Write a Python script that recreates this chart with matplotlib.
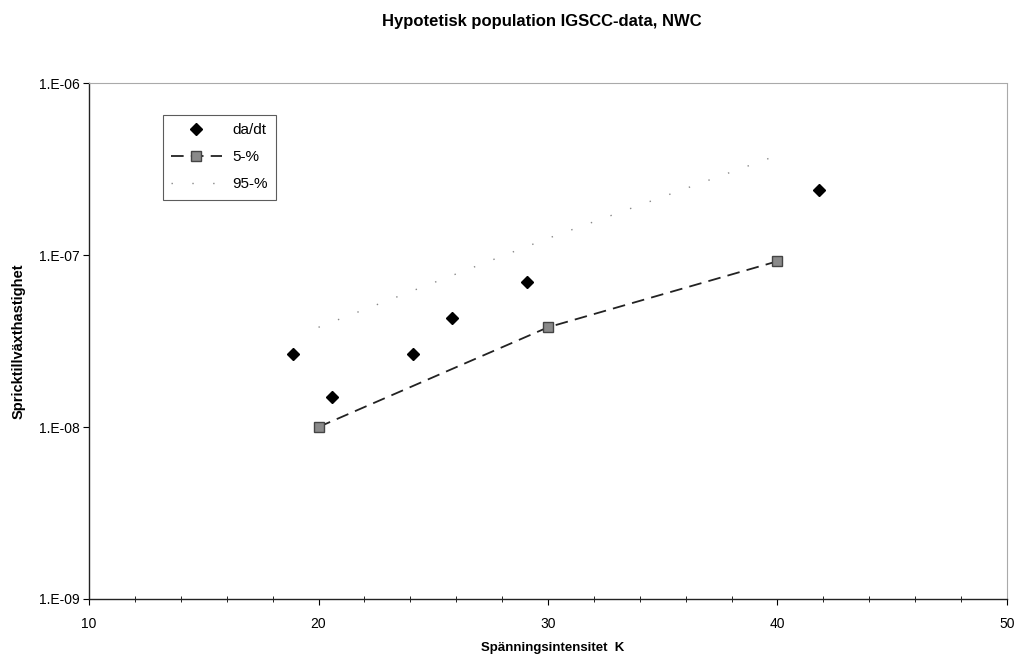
import math
import matplotlib
matplotlib.use("Agg")
import matplotlib.pyplot as plt
from matplotlib.ticker import FixedLocator, FuncFormatter, MultipleLocator

plt.rcParams['font.family'] = ['Liberation Sans', 'DejaVu Sans']

# measured crack growth rates
k_meas = [18.9, 20.6, 24.1, 25.8, 29.1, 41.8]
dadt = [2.65e-8, 1.5e-8, 2.65e-8, 4.3e-8, 7.0e-8, 2.4e-7]

# percentile curves
k_pct = [20, 30, 40]
p05 = [1.0e-8, 3.8e-8, 9.2e-8]
p95 = [3.8e-8, 1.25e-7, 3.8e-7]

fig = plt.figure(figsize=(10.27, 6.61), dpi=100)
ax = fig.add_axes([0.0867, 0.0938, 0.8938, 0.7806])

ax.plot(k_meas, dadt, linestyle='none', marker='D', markersize=6,
        color='black', label='da/dt')
ax.plot(k_pct, p05, linestyle=(0, (7, 4)), linewidth=1.3, color='#222222',
        marker='s', markersize=7, markerfacecolor='#8a8a8a',
        markeredgecolor='#444444', label='5-%')
ax.plot(k_pct, p95, linestyle=(0, (1, 14)), linewidth=1.0, color='#888888',
        label='95-%')

ax.set_yscale('log')
ax.set_xlim(10, 50)
ax.set_ylim(1e-9, 1e-6)
ax.xaxis.set_major_locator(MultipleLocator(10))
ax.xaxis.set_minor_locator(MultipleLocator(2))
ax.yaxis.set_major_locator(FixedLocator([1e-9, 1e-8, 1e-7, 1e-6]))
ax.yaxis.set_minor_locator(FixedLocator([]))
ax.yaxis.set_major_formatter(FuncFormatter(lambda v, p: "1.E-%02d" % round(-math.log10(v))))
ax.tick_params(axis='both', which='major', direction='out', length=4,
               labelsize=10, width=0.8)
ax.tick_params(axis='x', which='minor', direction='inout', length=4, width=0.6)
ax.tick_params(axis='x', which='major', pad=9)
ax.tick_params(axis='y', which='major', pad=3)

for s in ['top', 'right']:
    ax.spines[s].set_color('#aaaaaa')
    ax.spines[s].set_linestyle((0, (2, 1)))
    ax.spines[s].set_linewidth(0.8)
for s in ['left', 'bottom']:
    ax.spines[s].set_color('#222222')
    ax.spines[s].set_linewidth(1.0)

leg = ax.legend(loc='upper left', bbox_to_anchor=(0.072, 0.953), fontsize=11,
                frameon=True, fancybox=False, borderpad=0.55, handlelength=3.3,
                labelspacing=0.85, handletextpad=0.7)
leg.get_frame().set_edgecolor('#333333')
leg.get_frame().set_linewidth(0.8)

fig.text(0.528, 0.968, "Hypotetisk population IGSCC-data, NWC", ha='center',
         va='center', fontsize=12, fontweight='bold')
fig.text(0.538, 0.020, "Spänningsintensitet  K", ha='center', va='center',
         fontsize=9.5, fontweight='bold')
fig.text(0.018, 0.484, "Spricktillväxthastighet", ha='center', va='center',
         rotation=90, fontsize=10.5, fontweight='bold')

fig.savefig("out.png", dpi=100)
